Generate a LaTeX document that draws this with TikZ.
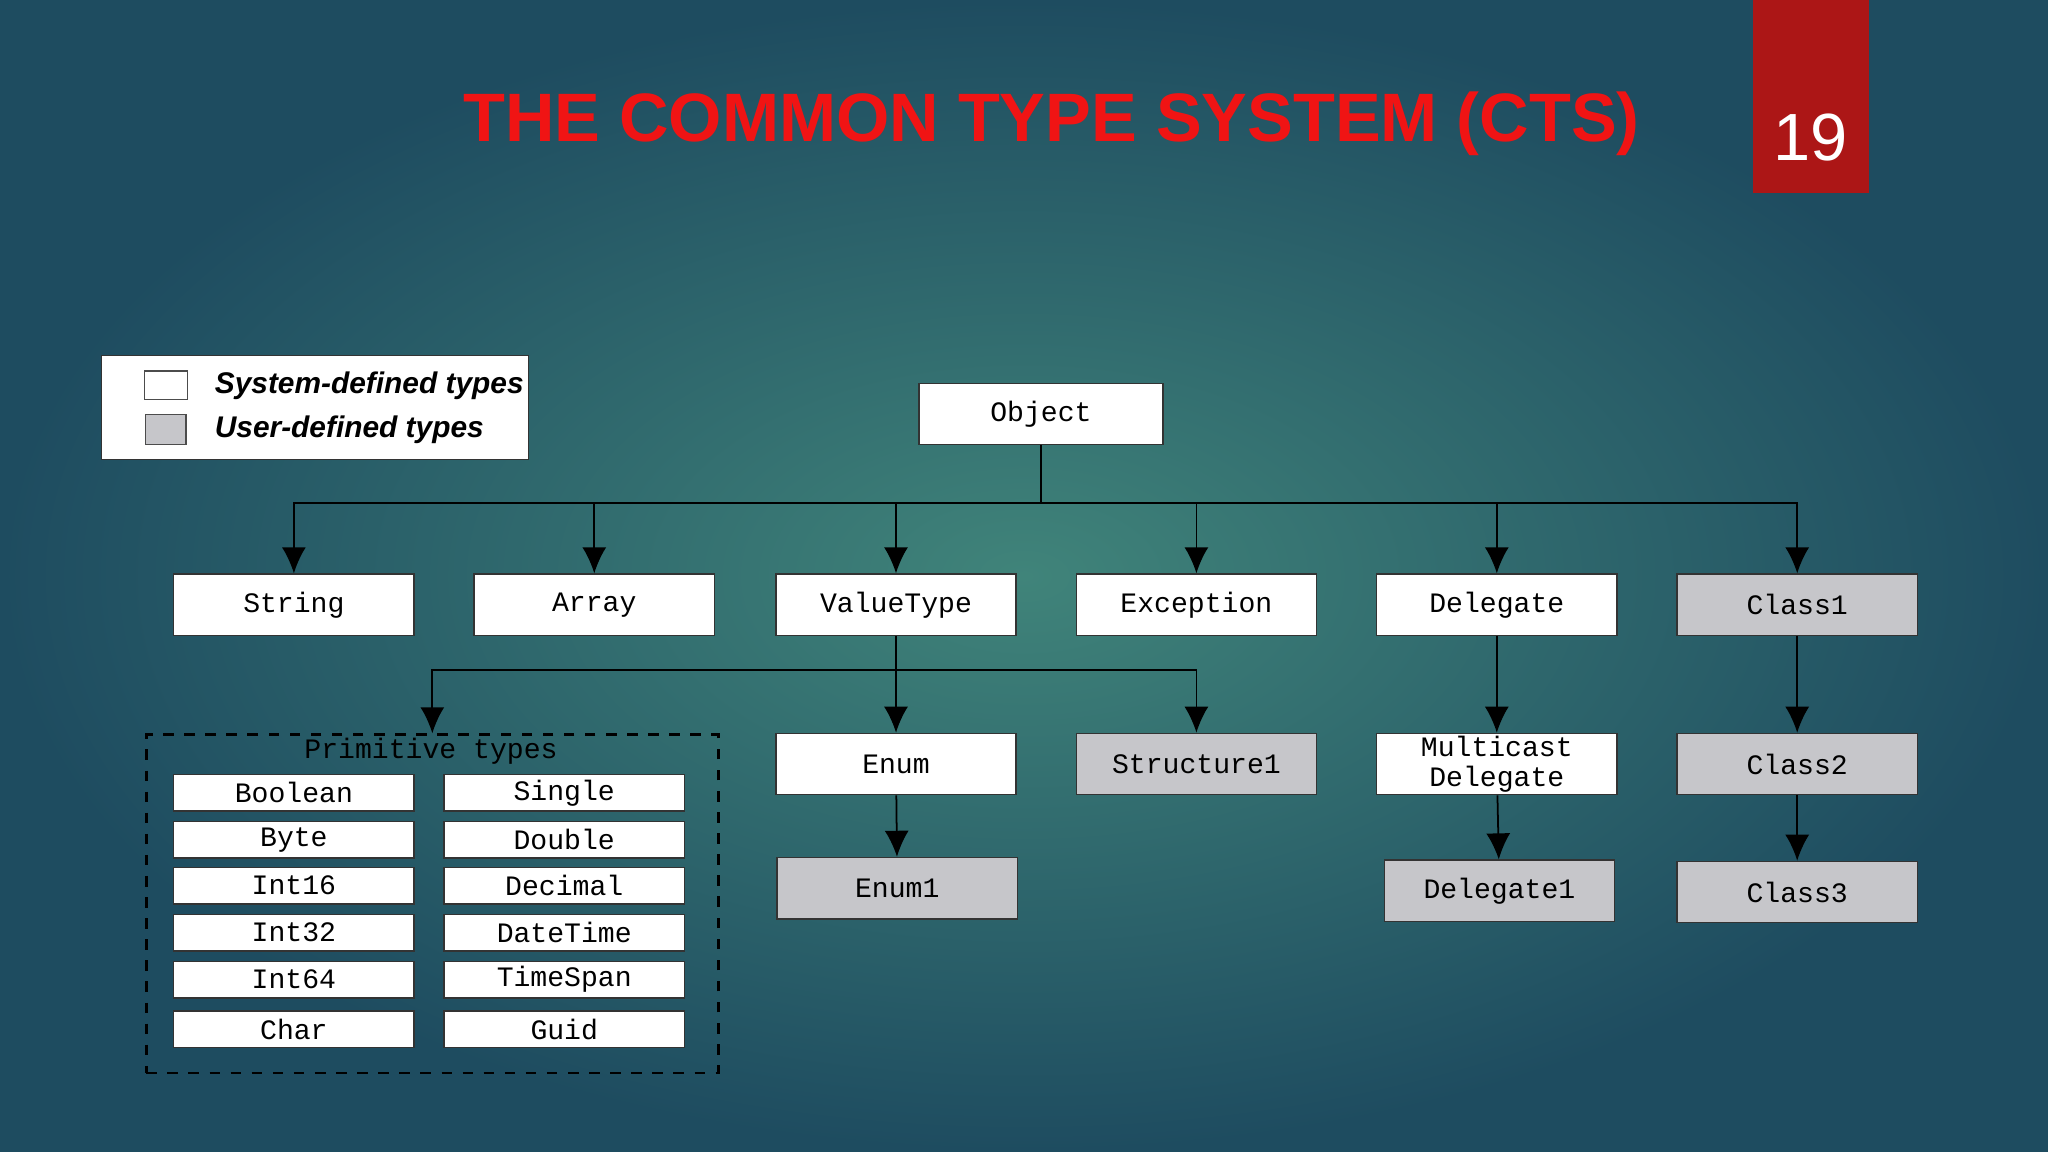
\documentclass[tikz,border=0pt]{standalone}
\usepackage{fontspec}
\setmainfont{Liberation Sans}
\newfontfamily\boxfont{Liberation Mono}
\usetikzlibrary{arrows.meta,shapes}
\definecolor{bgin}{RGB}{64,132,122}
\definecolor{bgout}{RGB}{30,76,96}
\definecolor{slidered}{RGB}{172,22,22}
\definecolor{titlered}{RGB}{240,20,20}
\definecolor{userfill}{RGB}{198,198,202}
\def\px{0.01306cm}
\tikzstyle{sysbox}=[rectangle,draw=black!80,fill=white,minimum width={184*\px},
  minimum height={47*\px},inner sep=0pt,font=\boxfont\fontsize{8}{8.5}\selectfont]
\tikzstyle{userbox}=[sysbox,fill=userfill]
\tikzstyle{primbox}=[sysbox,minimum height={28*\px}]
\tikzstyle{arrow}=[-{Latex[length=0.26cm,width=0.24cm]},black,line width=0.5pt]
\begin{document}
\begin{tikzpicture}[x=0.01306cm,y=-0.01306cm]
	\useasboundingbox (0,0) rectangle (1568,882);
	\shade[inner color=bgin,outer color=bgout] (0,0) rectangle (1568,882);
	% title and slide number
	\node[font=\bfseries\fontsize{19.5}{22}\selectfont,text=titlered] (title) at (805,95) {THE COMMON TYPE SYSTEM (CTS)};
	\fill[slidered] (1342,0) rectangle (1431,148);
	\node[text=white,font=\fontsize{19}{22}\selectfont] (num) at (1386,105) {19};
	% legend
	\node[draw=black!80,fill=white,minimum width={327*\px},minimum height={80*\px}] (legend) at (241,312) {};
	\node[draw=black!70,fill=white,minimum width={33*\px},minimum height={22*\px},inner sep=0pt] (lsys) at (127,295) {};
	\node[draw=black!70,fill=userfill,minimum width={31*\px},minimum height={23*\px},inner sep=0pt] (luser) at (127,329) {};
	\node[anchor=west,font=\bfseries\itshape\fontsize{8.5}{10}\selectfont] at (155,295) {System-defined types};
	\node[anchor=west,font=\bfseries\itshape\fontsize{8.5}{10}\selectfont] at (155,329) {User-defined types};
	% hierarchy
	\node[sysbox,minimum width={187*\px}] (obj) at (797,317) {Object};
	\node[sysbox] (string) at (225,463) {String};
	\node[sysbox] (array) at (455,463) {Array};
	\node[sysbox] (valtype) at (686,463) {ValueType};
	\node[sysbox] (exc) at (916,463) {Exception};
	\node[sysbox] (deleg) at (1146,463) {Delegate};
	\node[userbox] (class1) at (1376,463) {Class1};
	\node[sysbox] (enum) at (686,585) {Enum};
	\node[userbox] (struct) at (916,585) {Structure1};
	\node[sysbox,align=center] (multi) at (1146,585) {Multicast\\Delegate};
	\node[userbox] (class2) at (1376,585) {Class2};
	\node[userbox] (enum1) at (687,680) {Enum1};
	\node[userbox,minimum width={176*\px}] (deleg1) at (1148,682) {Delegate1};
	\node[userbox] (class3) at (1376,683) {Class3};
	% primitive types
	\node[draw=black,dashed,thick,minimum width={438*\px},minimum height={259*\px}] (prim) at (331,692) {};
	\node[font=\boxfont\fontsize{8}{8.5}\selectfont] (primlabel) at (330,575) {Primitive types};
	\foreach \l/\r/\y in {Boolean/Single/607,Byte/Double/643,Int16/Decimal/678,
	                      Int32/DateTime/714,Int64/TimeSpan/750,Char/Guid/788}{
		\node[primbox] (p\l) at (225,\y) {\l};
		\node[primbox] (p\r) at (432,\y) {\r};
	}
	% connectors
	\coordinate (bus1) at (0,385);
	\coordinate (bus2) at (0,513);
	\foreach \n in {string,array,valtype,exc,deleg,class1}
		\draw[arrow] (obj.south) -- (obj.south |- bus1) -| (\n.north);
	\foreach \n in {prim,enum,struct}
		\draw[arrow] (valtype.south) -- (valtype.south |- bus2) -| (\n.north);
	\draw[arrow] (enum) -- (enum1);
	\draw[arrow] (deleg) -- (multi);
	\draw[arrow] (multi) -- (deleg1);
	\draw[arrow] (class1) -- (class2);
	\draw[arrow] (class2) -- (class3);
\end{tikzpicture}
\end{document}
